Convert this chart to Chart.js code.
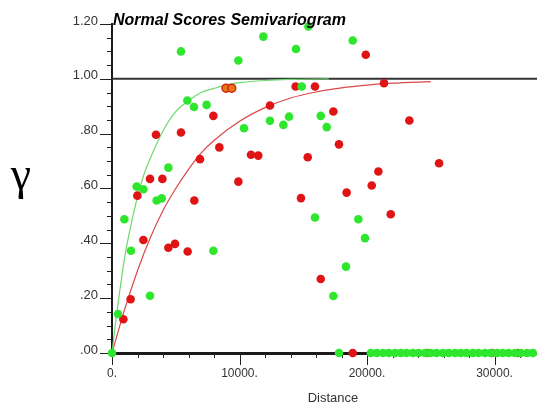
<!DOCTYPE html>
<html><head><meta charset="utf-8">
<script src="https://cdn.jsdelivr.net/npm/chart.js@4"></script>
<style>html,body{margin:0;padding:0;background:#fff}canvas{display:block}</style>
</head><body>
<canvas id="c" width="537" height="404"></canvas>
<script>
const chartTitle = 'Normal Scores Semivariogram';
const xAxisTitle = 'Distance';
const yAxisTitle = 'γ';
const xTickValues = [0, 10000, 20000, 30000];
const xTickLabels = ['0.', '10000.', '20000.', '30000.'];
const yTickValues = [0, 0.2, 0.4, 0.6, 0.8, 1.0, 1.2];
const yTickLabels = ['.00', '.20', '.40', '.60', '.80', '1.00', '1.20'];
const xMinorStep = 2000;
const yMinorStep = 0.05;
const xMax = 33330;
const yMax = 1.2;
const sill = 1.0;

// green experimental points
const greenDist = [0, 470, 970, 1490, 1935, 2460, 2980, 3500, 3900, 4420, 5410, 5910, 6430, 7420, 7950, 9910, 10350, 11870, 12390, 13440, 13880, 14430, 14880, 15400, 15920, 16370, 16840, 17360, 18350, 18880, 19320, 19840,
  17800, 20300, 20760, 21250, 21700, 22200, 22650, 23100, 23600, 24050, 24550, 25000, 25450, 25950, 26400, 26900, 27350, 27800, 28300, 28750, 29250, 29700, 30200, 30650, 31100, 31600, 32050, 32550, 33000];
const greenGamma = [0, 0.142, 0.488, 0.373, 0.607, 0.597, 0.209, 0.556, 0.564, 0.676, 1.100, 0.921, 0.897, 0.905, 0.373, 1.067, 0.820, 1.154, 0.847, 0.832, 0.862, 1.109, 0.972, 1.191, 0.494, 0.865, 0.824, 0.208, 0.315, 1.140, 0.488, 0.419,
  0, 0, 0, 0, 0, 0, 0, 0, 0, 0, 0, 0, 0, 0, 0, 0, 0, 0, 0, 0, 0, 0, 0, 0, 0, 0, 0, 0, 0];

// red experimental points
const redDist = [890, 1460, 1990, 2460, 2980, 3450, 3950, 4420, 4940, 5410, 5935, 6455, 6900, 7950, 8420, 9910, 10900, 11470, 12390, 14400, 14820, 15350, 15920, 16370, 17360, 17800, 18400, 18880, 19900, 20370, 20890, 21330, 21860, 23320, 25650];
const redGamma = [0.123, 0.196, 0.574, 0.412, 0.635, 0.796, 0.635, 0.384, 0.398, 0.804, 0.370, 0.556, 0.707, 0.865, 0.750, 0.625, 0.723, 0.720, 0.903, 0.972, 0.565, 0.714, 0.972, 0.270, 0.881, 0.761, 0.585, 0, 1.088, 0.611, 0.662, 0.984, 0.506, 0.848, 0.692];

// red points hidden under green ones on the axis
const redAxisDist = [24700, 29800, 31870];
const redAxisGamma = [0, 0, 0];

// overlapping red/green points
const bothDist = [8940, 9390];
const bothGamma = [0.966, 0.966];

// fitted model curves
const greenModelDist = [0, 250, 500, 1000, 1500, 2000, 2500, 3000, 4000, 5000, 6000, 7000, 8000, 9000, 10000, 12000, 14000, 17000];
const greenModelGamma = [0, 0.10, 0.19, 0.35, 0.47, 0.57, 0.65, 0.71, 0.81, 0.88, 0.92, 0.95, 0.965, 0.978, 0.986, 0.994, 0.998, 1.0];
const redModelDist = [0, 1000, 2000, 3000, 4000, 5000, 6000, 7000, 8000, 10000, 12000, 14000, 16000, 18000, 20000, 22000, 25000];
const redModelGamma = [0, 0.16, 0.30, 0.42, 0.52, 0.60, 0.67, 0.73, 0.775, 0.845, 0.895, 0.93, 0.952, 0.967, 0.977, 0.984, 0.99];

const pts = (xs, ys) => xs.map((v, i) => ({x: v, y: ys[i]}));

const decor = {
  id: 'decor',
  beforeDatasetsDraw(chart) {
    const {ctx, chartArea: a, scales: {x, y}} = chart;
    ctx.save();
    ctx.strokeStyle = '#222';
    ctx.lineWidth = 1;
    ctx.beginPath();
    const ny = Math.round(yMax / yMinorStep);
    for (let i = 0; i <= ny; i++) {
      const v = i * yMinorStep;
      const py = Math.round(y.getPixelForValue(v)) + 0.5;
      const major = yTickValues.some(t => Math.abs(t - v) < 1e-6);
      ctx.moveTo(a.left - (major ? 12 : 5), py);
      ctx.lineTo(a.left, py);
    }
    const nx = Math.floor(xMax / xMinorStep);
    for (let i = 0; i <= nx; i++) {
      const v = i * xMinorStep;
      const px = Math.round(x.getPixelForValue(v)) + 0.5;
      const major = xTickValues.includes(v);
      ctx.moveTo(px, a.bottom);
      ctx.lineTo(px, a.bottom + (major ? 12 : 5));
    }
    ctx.stroke();
    ctx.restore();
  },
  afterDraw(chart) {
    const {ctx} = chart;
    ctx.save();
    ctx.fillStyle = '#000';
    ctx.textAlign = 'left';
    ctx.textBaseline = 'alphabetic';
    ctx.font = 'italic bold 16px "Liberation Sans", Arial, sans-serif';
    ctx.fillText(chartTitle, 113, 25);
    ctx.textAlign = 'center';
    ctx.font = '46px "Liberation Serif", "Times New Roman", serif';
    ctx.fillText(yAxisTitle, 21, 189);
    ctx.fillStyle = '#333';
    ctx.font = '13px "Liberation Sans", Arial, sans-serif';
    ctx.fillText(xAxisTitle, 333, 402);
    ctx.restore();
  }
};

new Chart(document.getElementById('c'), {
  type: 'scatter',
  data: {
    datasets: [
      {data: pts(bothDist, bothGamma), backgroundColor: '#e8761c', borderColor: '#d2260e', borderWidth: 1.5, pointRadius: 4, order: 1, clip: false},
      {data: pts(greenDist, greenGamma), backgroundColor: '#2ee62e', borderColor: '#2ee62e', borderWidth: 0, pointRadius: 4.3, order: 2, clip: false},
      {data: pts(redDist, redGamma), backgroundColor: '#e01414', borderColor: '#e01414', borderWidth: 0, pointRadius: 4.3, order: 3, clip: false},
      {data: pts(redAxisDist, redAxisGamma), backgroundColor: '#d04a14', borderWidth: 0, pointRadius: 4.3, order: 4, clip: false},
      {data: pts(greenModelDist, greenModelGamma), showLine: true, borderColor: '#6fd86f', borderWidth: 1.2, pointRadius: 0, cubicInterpolationMode: 'monotone', order: 5},
      {data: pts(redModelDist, redModelGamma), showLine: true, borderColor: '#d84848', borderWidth: 1.2, pointRadius: 0, cubicInterpolationMode: 'monotone', order: 6},
      {data: [{x: 0, y: sill}, {x: xMax, y: sill}], showLine: true, borderColor: '#333', borderWidth: 2, pointRadius: 0, order: 7}
    ]
  },
  options: {
    responsive: false,
    animation: false,
    devicePixelRatio: 1,
    layout: {autoPadding: false, padding: {top: 24, left: 0, right: 0, bottom: 0}},
    plugins: {legend: {display: false}, tooltip: {enabled: false}, title: {display: false}},
    scales: {
      x: {
        type: 'linear', min: 0, max: xMax,
        afterBuildTicks: s => { s.ticks = xTickValues.map(v => ({value: v})); },
        afterFit: s => { s.height = 51; s.paddingRight = 0; s.paddingLeft = 0; },
        grid: {display: false, drawTicks: false},
        border: {display: true, color: '#1a1a1a', width: 3},
        ticks: {
          autoSkip: false, maxRotation: 0, minRotation: 0, padding: 13,
          color: '#333', font: {family: '"Liberation Sans", Arial, sans-serif', size: 12},
          callback: v => { const i = xTickValues.indexOf(v); return i >= 0 ? xTickLabels[i] : ''; }
        }
      },
      y: {
        type: 'linear', min: 0, max: yMax,
        afterBuildTicks: s => { s.ticks = yTickValues.map(v => ({value: v})); },
        afterFit: s => { s.width = 112; },
        grid: {display: false, drawTicks: false},
        border: {display: true, color: '#1a1a1a', width: 2},
        ticks: {
          autoSkip: false, padding: 14, labelOffset: -3,
          color: '#333', font: {family: '"Liberation Sans", Arial, sans-serif', size: 13},
          callback: v => { const i = yTickValues.findIndex(t => Math.abs(t - v) < 1e-6); return i >= 0 ? yTickLabels[i] : ''; }
        }
      }
    }
  },
  plugins: [decor]
});
</script>
</body></html>
